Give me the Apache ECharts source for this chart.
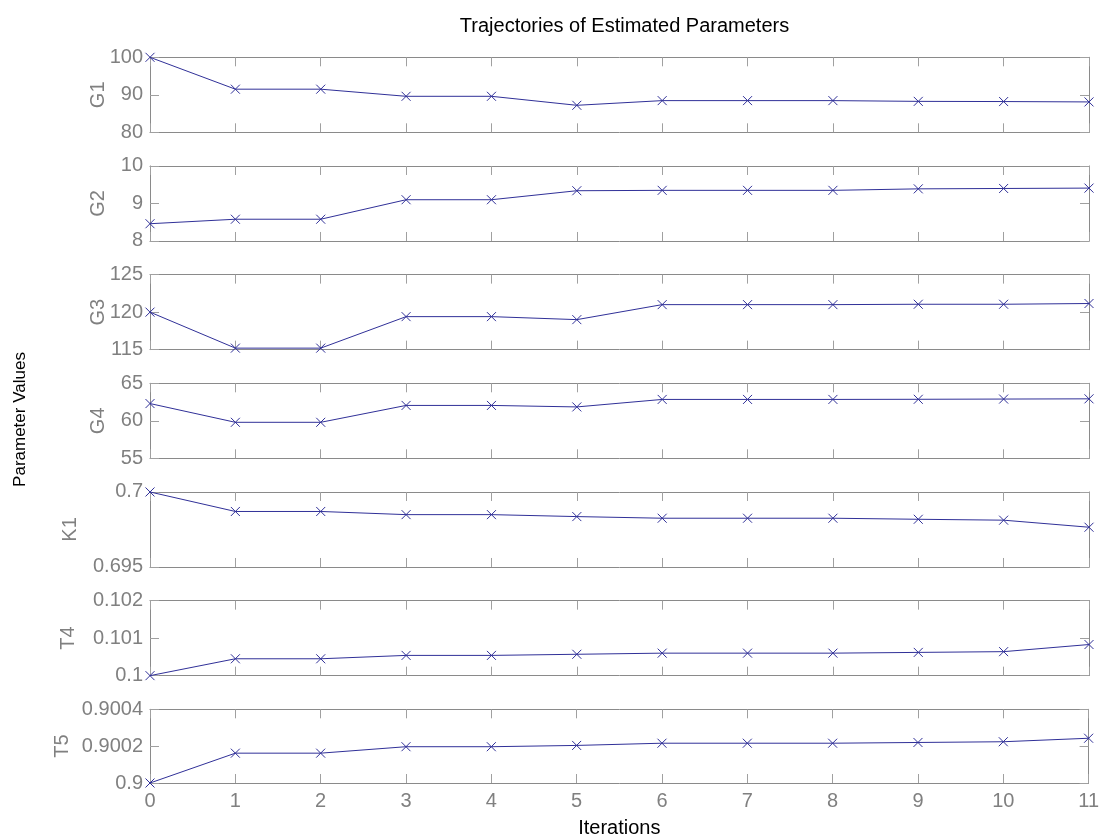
<!DOCTYPE html>
<html>
<head>
<meta charset="utf-8">
<title>Trajectories of Estimated Parameters</title>
<script src="https://cdn.jsdelivr.net/npm/echarts@6/dist/echarts.min.js"></script>
<style>
  html, body { margin: 0; padding: 0; background: #fff; }
  #chart { width: 1102px; height: 839px; }
</style>
</head>
<body>
<div id="chart"></div>
<script>
// Iteration index shared by every panel
const iterations = [0, 1, 2, 3, 4, 5, 6, 7, 8, 9, 10, 11];

// Parameter estimates per iteration
const paramNames = ['G1', 'G2', 'G3', 'G4', 'K1', 'T4', 'T5'];
const G1 = [100, 91.5, 91.5, 89.6, 89.6, 87.2, 88.45, 88.45, 88.45, 88.25, 88.2, 88.1];
const G2 = [8.46, 8.58, 8.58, 9.10, 9.10, 9.34, 9.35, 9.35, 9.35, 9.39, 9.40, 9.41];
const G3 = [120.0, 115.2, 115.2, 119.4, 119.4, 119.0, 121.0, 121.0, 121.0, 121.05, 121.05, 121.15];
const G4 = [62.3, 59.8, 59.8, 62.05, 62.05, 61.85, 62.85, 62.85, 62.85, 62.87, 62.9, 62.93];
const K1 = [0.7, 0.69870, 0.69870, 0.69849, 0.69849, 0.69836, 0.69825, 0.69825, 0.69825, 0.69818, 0.69812, 0.69765];
const T4 = [0.1, 0.10045, 0.10045, 0.10054, 0.10054, 0.10057, 0.10060, 0.10060, 0.10060, 0.10062, 0.10064, 0.10083];
const T5 = [0.9, 0.900162, 0.900162, 0.900197, 0.900197, 0.900204, 0.900216, 0.900216, 0.900216, 0.90022, 0.900224, 0.900243];
const seriesValues = [G1, G2, G3, G4, K1, T4, T5];

// Y-axis ranges and tick steps per panel
const yMin = [80, 8, 115, 55, 0.695, 0.1, 0.9];
const yMax = [100, 10, 125, 65, 0.7, 0.102, 0.9004];
const yStep = [10, 1, 5, 5, 0.005, 0.001, 0.0002];
const yNameGap = [42, 42, 42, 42, 70, 72, 78];

const GRAY = '#808080';
const BOX = '#8a8a8a';
const BLUE = '#303098';
const FONT = '"Liberation Sans", Arial, Helvetica, sans-serif';

const chart = echarts.init(document.getElementById('chart'), null, { renderer: 'canvas' });

const grids = [], xAxes = [], yAxes = [], series = [];
const panelTop = 57.3, panelStep = 108.67, panelH = 75;

paramNames.forEach((name, i) => {
  const last = i === paramNames.length - 1;
  grids.push({ left: 150, right: 13, top: panelTop + i * panelStep, height: panelH, show: false });
  const line = { show: true, onZero: false, lineStyle: { color: BOX, width: 1 } };
  const tick = { show: true, inside: true, length: 9, lineStyle: { color: '#a0a0a0', width: 1 } };
  // bottom x axis
  xAxes.push({
    type: 'value', gridIndex: i, position: 'bottom', min: 0, max: 11, interval: 1,
    axisLine: line, axisTick: tick, splitLine: { show: false },
    axisLabel: { show: last, color: GRAY, fontSize: 20, fontFamily: FONT, margin: 8 },
    name: last ? 'Iterations' : '', nameLocation: 'middle', nameGap: 35, nameMoveOverlap: false,
    nameTextStyle: { color: '#000', fontSize: 20, fontFamily: FONT }
  });
  // top x axis (mirrored ticks)
  xAxes.push({
    type: 'value', gridIndex: i, position: 'top', min: 0, max: 11, interval: 1,
    axisLine: line, axisTick: tick, splitLine: { show: false },
    axisLabel: { show: false }
  });
  // left y axis
  yAxes.push({
    type: 'value', gridIndex: i, position: 'left', min: yMin[i], max: yMax[i], interval: yStep[i],
    axisLine: line, axisTick: tick, splitLine: { show: false },
    axisLabel: { color: GRAY, fontSize: 20, fontFamily: FONT, margin: 7 },
    name: name, nameLocation: 'middle', nameRotate: 90, nameGap: yNameGap[i], nameMoveOverlap: false,
    nameTextStyle: { color: GRAY, fontSize: 20, fontFamily: FONT }
  });
  // right y axis (mirrored ticks)
  yAxes.push({
    type: 'value', gridIndex: i, position: 'right', min: yMin[i], max: yMax[i], interval: yStep[i],
    axisLine: line, axisTick: tick, splitLine: { show: false },
    axisLabel: { show: false }
  });
  series.push({
    type: 'line', xAxisIndex: 2 * i, yAxisIndex: 2 * i,
    data: iterations.map((it, k) => [it, seriesValues[i][k]]),
    symbol: 'path://M0,0 L10,10 M10,0 L0,10', symbolSize: 9, showAllSymbol: true,
    lineStyle: { color: BLUE, width: 1 },
    itemStyle: { color: BLUE, borderColor: BLUE, borderWidth: 1 },
    clip: false, animation: false, silent: true, z: 5
  });
});

chart.setOption({
  backgroundColor: '#fff',
  animation: false,
  title: {
    text: 'Trajectories of Estimated Parameters', left: 619.5, top: 11, textAlign: 'center',
    textStyle: { color: '#000', fontSize: 20, fontWeight: 'normal', fontFamily: FONT }
  },
  graphic: [{
    type: 'text', left: 12, top: 'middle', rotation: Math.PI / 2,
    style: { text: 'Parameter Values', fill: '#000', fontSize: 17, fontFamily: FONT }
  }],
  grid: grids, xAxis: xAxes, yAxis: yAxes, series: series
});
</script>
</body>
</html>
